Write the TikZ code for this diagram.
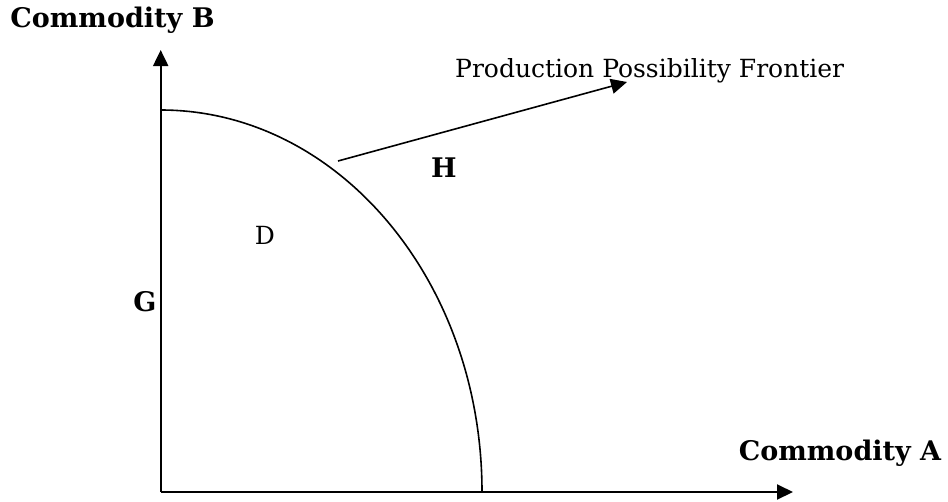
\documentclass[tikz,border=0pt]{standalone}
\usepackage{fontspec}
\setmainfont{DejaVu Serif}
\usetikzlibrary{arrows.meta}

\begin{document}
\begin{tikzpicture}[
    x=1pt, y=1pt,
    every node/.style={inner sep=0pt, font=\fontsize{25}{29}\selectfont},
    lbl/.style={anchor=base, font=\fontsize{27}{31}\selectfont\bfseries},
    axis/.style={-{Triangle[length=16pt, width=15pt]}, line width=2pt},
    curve/.style={line width=1.6pt},
  ]
    \useasboundingbox (0,0) rectangle (948,-501);

    % axes
    \coordinate (O) at (160.7,-492);
    \coordinate (Ytip) at (160.7,-50);
    \coordinate (Xtip) at (793,-492);
    \draw[axis] (O) -- (Ytip);
    \draw[axis] (O) -- (Xtip);

    % frontier
    \coordinate (Ftop) at (160.7,-110);
    \coordinate (Fbot) at (482,-492);
    \draw[curve] (Ftop) arc[start angle=90, end angle=0, x radius=321.3, y radius=382];

    % pointer to the frontier label
    \coordinate (Pstart) at (338,-161);
    \coordinate (Ptip) at (627,-82);
    \draw[axis, line width=1.6pt] (Pstart) -- (Ptip);

    % labels
    \node[lbl] (labB) at (112.5,-27) {Commodity B};
    \node[lbl] (labA) at (840,-460) {Commodity A};
    \node[anchor=base west] (labPPF) at (455,-77) {Production Possibility Frontier};
    \node[lbl] (labH) at (444,-177) {H};
    \node[lbl] (labG) at (145,-311) {G};
    \node[anchor=base] (labD) at (265,-244) {D};
\end{tikzpicture}
\end{document}
